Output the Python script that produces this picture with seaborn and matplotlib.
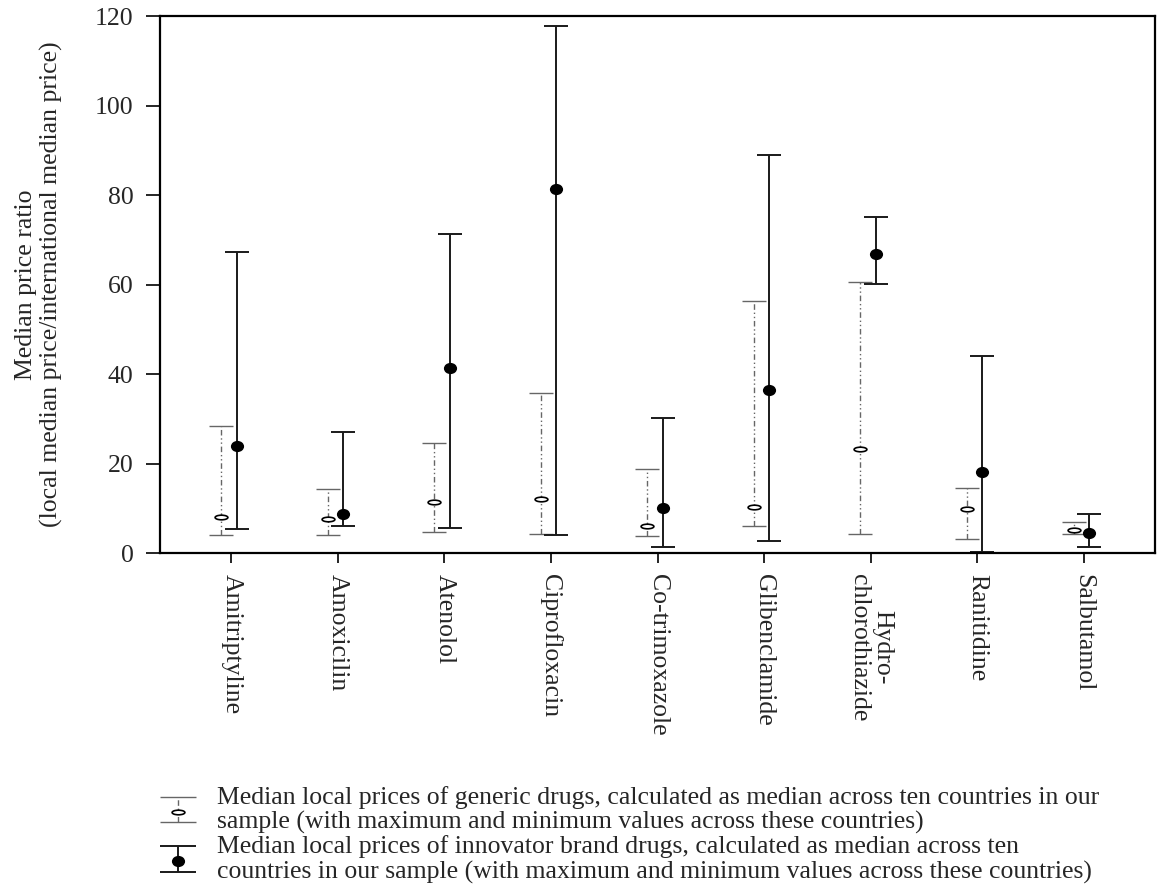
import matplotlib
matplotlib.use("Agg")
import numpy as np
import matplotlib.pyplot as plt
import seaborn as sns
from matplotlib.path import Path
from matplotlib.transforms import Affine2D
from matplotlib.lines import Line2D
from matplotlib.container import ErrorbarContainer
from matplotlib.legend_handler import HandlerErrorbar

# values
drugs = ["Amitriptyline", "Amoxicilin", "Atenolol", "Ciprofloxacin", "Co-trimoxazole",
         "Glibenclamide", "Hydro-\nchlorothiazide", "Ranitidine", "Salbutamol"]
gen_med = [8.1, 7.6, 11.5, 12.0, 6.1, 10.3, 23.2, 9.9, 5.1]
gen_min = [4.1, 4.1, 4.8, 4.2, 3.9, 6.0, 4.3, 3.1, 4.2]
gen_max = [28.5, 14.2, 24.5, 35.8, 18.7, 56.3, 60.5, 14.6, 7.0]
brand_med = [23.9, 8.7, 41.3, 81.3, 10.1, 36.4, 66.8, 18.1, 4.4]
brand_min = [5.4, 6.0, 5.7, 4.1, 1.3, 2.8, 60.2, 0.2, 1.4]
brand_max = [67.2, 27.0, 71.2, 117.7, 30.2, 88.9, 75.2, 44.0, 8.8]
y_ticks = [0, 20, 40, 60, 80, 100, 120]

legend_labels = [
    "Median local prices of generic drugs, calculated as median across ten countries in our\n"
    "sample (with maximum and minimum values across these countries)",
    "Median local prices of innovator brand drugs, calculated as median across ten\n"
    "countries in our sample (with maximum and minimum values across these countries)",
]

FS = 18.5

sns.set_style("ticks")
plt.rcParams["font.family"] = ["Liberation Serif", "DejaVu Serif"]
plt.rcParams["font.size"] = FS


class WideCapHandler(HandlerErrorbar):
    # legend keys in the reference have wider caps than the plot
    def create_artists(self, *args, **kwargs):
        arts = super().create_artists(*args, **kwargs)
        for a in arts:
            if isinstance(a, Line2D) and a.get_marker() == "_":
                a.set_markersize(26)
        return arts


pos = np.arange(len(drugs))
xg = pos - 0.095
xb = pos + 0.05
gen_med = np.array(gen_med)
brand_med = np.array(brand_med)
gen_err = [gen_med - np.array(gen_min), np.array(gen_max) - gen_med]
brand_err = [brand_med - np.array(brand_min), np.array(brand_max) - brand_med]

ellipse = Path.unit_circle().transformed(Affine2D().scale(1, 0.36))
dot = Path.unit_circle().transformed(Affine2D().scale(1, 0.85))

fig = plt.figure(figsize=(11.57, 8.93), dpi=100)
ax = fig.add_axes([0.1383, 0.3807, 0.86, 0.6013])

eb_gen = ax.errorbar(xg, gen_med, yerr=gen_err, fmt="none", ecolor="#666666",
                     elinewidth=1.0, capsize=8.5, capthick=1.0, zorder=2)
eb_gen[2][0].set_linestyle((0, (4, 2, 1, 2, 1, 2)))
eb_brand = ax.errorbar(xb, brand_med, yerr=brand_err, fmt="none", ecolor="#1a1a1a",
                       elinewidth=1.4, capsize=8.5, capthick=1.4, zorder=2)

sns.scatterplot(x=xg, y=gen_med, ax=ax, marker=ellipse, s=85,
                facecolor="white", edgecolor="black", linewidth=1.2, zorder=3)
sc_gen = ax.collections[-1]
sns.scatterplot(x=xb, y=brand_med, ax=ax, marker=dot, s=90,
                color="black", edgecolor="black", linewidth=0, zorder=3)
sc_brand = ax.collections[-1]

ax.set_xlim(-0.67, 8.67)
ax.set_ylim(0, 120)
ax.set_yticks(y_ticks)
ax.set_xticks(pos)
ax.set_xticklabels(drugs, rotation=-90, va="top", ha="center", linespacing=1.1)
ax.tick_params(axis="y", length=10, width=1.2, labelsize=FS, pad=9, color="black")
ax.tick_params(axis="x", length=7, width=1.2, labelsize=FS, pad=8, color="black")
for sp in ax.spines.values():
    sp.set_linewidth(1.6)
    sp.set_color("black")

ax.set_ylabel("Median price ratio\n(local median price/international median price)",
              fontsize=FS, linespacing=1.15)
ax.yaxis.set_label_coords(-0.098, 0.5)

leg = fig.legend([(eb_gen, sc_gen), (eb_brand, sc_brand)], legend_labels,
                 loc="upper left", bbox_to_anchor=(0.138, 0.12), frameon=False,
                 fontsize=FS, handlelength=1.45, handletextpad=0.8, labelspacing=0.05,
                 borderpad=0, borderaxespad=0, scatterpoints=1,
                 handler_map={ErrorbarContainer: WideCapHandler()})
for t in leg.get_texts():
    t.set_linespacing(1.12)

plt.savefig("out.png", dpi=100)
